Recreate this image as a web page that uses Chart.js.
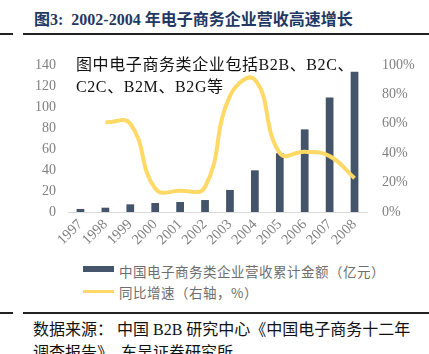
<!DOCTYPE html>
<html>
<head>
<meta charset="utf-8">
<script src="https://cdn.jsdelivr.net/npm/chart.js@4"></script>
<style>
  body { margin: 0; width: 429px; height: 354px; background: #fff; position: relative; overflow: hidden; }
  .serif { font-family: "Liberation Serif", "Noto Sans CJK SC", serif; }
  #title { position: absolute; left: 34px; top: 6px; font-size: 16px; font-weight: bold; color: #1f3864; white-space: pre; }
  .rule { position: absolute; height: 2px; background: #222; }
  #wrap { position: absolute; left: 0; top: 40px; width: 429px; height: 220px; }
  #note { position: absolute; left: 76px; top: 54px; font-size: 16px; line-height: 22px; color: #111; letter-spacing: 0.6px; }
  .lg { position: absolute; left: 83px; font-family: "Noto Sans CJK SC", sans-serif; font-size: 13.5px; color: #6e6e6e; }
  .lg span.key { position: absolute; left: 0; width: 31px; }
  .lg span.txt { position: absolute; left: 36px; white-space: nowrap; letter-spacing: 0.5px; }
  #src { position: absolute; left: 33px; top: 318px; font-size: 16px; line-height: 23px; color: #111; white-space: pre; }
</style>
</head>
<body>
<div id="title" class="serif">图3:  2002-2004 年电子商务企业营收高速增长</div>
<div class="rule" style="left:0;width:13px;top:33px"></div>
<div class="rule" style="left:23px;width:406px;top:33px"></div>

<div id="wrap"><canvas id="chart"></canvas></div>
<div id="note" class="serif">图中电子商务类企业包括B2B、B2C、<br>C2C、B2M、B2G等</div>

<div class="lg" style="top:261px"><span class="key" style="top:5px;height:6px;background:#44546a"></span><span class="txt" id="lg1"></span></div>
<div class="lg" style="top:282px"><span class="key" style="top:8px;height:3px;background:#ffd966"></span><span class="txt" id="lg2"></span></div>

<div class="rule" style="left:0;width:13px;top:312px"></div>
<div class="rule" style="left:23px;width:406px;top:312px"></div>
<div id="src" class="serif">数据来源： 中国 B2B 研究中心《中国电子商务十二年
调查报告》，东吴证券研究所</div>

<script>
// categories and values
const years = ['1997','1998','1999','2000','2001','2002','2003','2004','2005','2006','2007','2008'];
const revenue = [2.9, 4.1, 7.3, 8.6, 9.5, 11.4, 21, 39.7, 56, 78.7, 109, 133.6];
const growth = [null, 61, 60, 16, 14.5, 17, 79, 90, 40, 41, 38, 23];

const revenueLabel = '中国电子商务类企业营收累计金额（亿元）';
const growthLabel = '同比增速（右轴，%）';
document.getElementById('lg1').textContent = revenueLabel;
document.getElementById('lg2').textContent = growthLabel;

const tickFont = { family: '"Liberation Serif", serif', size: 14 };
const gray = '#808080';

let ctx = document.getElementById('chart');

new Chart(ctx, {
  type: 'bar',
  data: {
    labels: years,
    datasets: [{
      type: 'line',
      label: growthLabel,
      data: growth,
      yAxisID: 'y1',
      borderColor: '#ffd966',
      backgroundColor: '#ffd966',
      borderWidth: 4,
      pointRadius: 0,
      tension: 0.45,
      order: 0
    }, {
      label: revenueLabel,
      data: revenue,
      yAxisID: 'y',
      backgroundColor: '#44546a',
      barPercentage: 0.31,
      categoryPercentage: 1,
      order: 1
    }]
  },
  options: {
    responsive: true,
    maintainAspectRatio: false,
    animation: false,
    layout: { padding: { top: 25, bottom: 0, left: 0, right: 0 } },
    plugins: {
      legend: { display: false },
      tooltip: { enabled: false }
    },
    scales: {
      x: {
        grid: { display: false, drawTicks: false },
        border: { display: true, color: '#d9d9d9', width: 1 },
        ticks: { color: gray, font: { family: '"Liberation Serif", serif', size: 14.5 }, autoSkip: false, minRotation: 45, maxRotation: 45, padding: 4 },
        afterFit(scale) { scale.height = 48; }
      },
      y: {
        position: 'left',
        min: 0, max: 140,
        grid: { display: false, drawTicks: false },
        border: { display: false },
        ticks: { stepSize: 20, color: gray, font: tickFont, padding: 12 },
        afterFit(scale) { scale.width = 68; }
      },
      y1: {
        position: 'right',
        min: 0, max: 100,
        grid: { display: false, drawTicks: false },
        border: { display: false },
        ticks: { stepSize: 20, color: gray, font: tickFont, padding: 15, callback: v => v + '%' },
        afterFit(scale) { scale.width = 62; }
      }
    }
  }
});
</script>
</body>
</html>
